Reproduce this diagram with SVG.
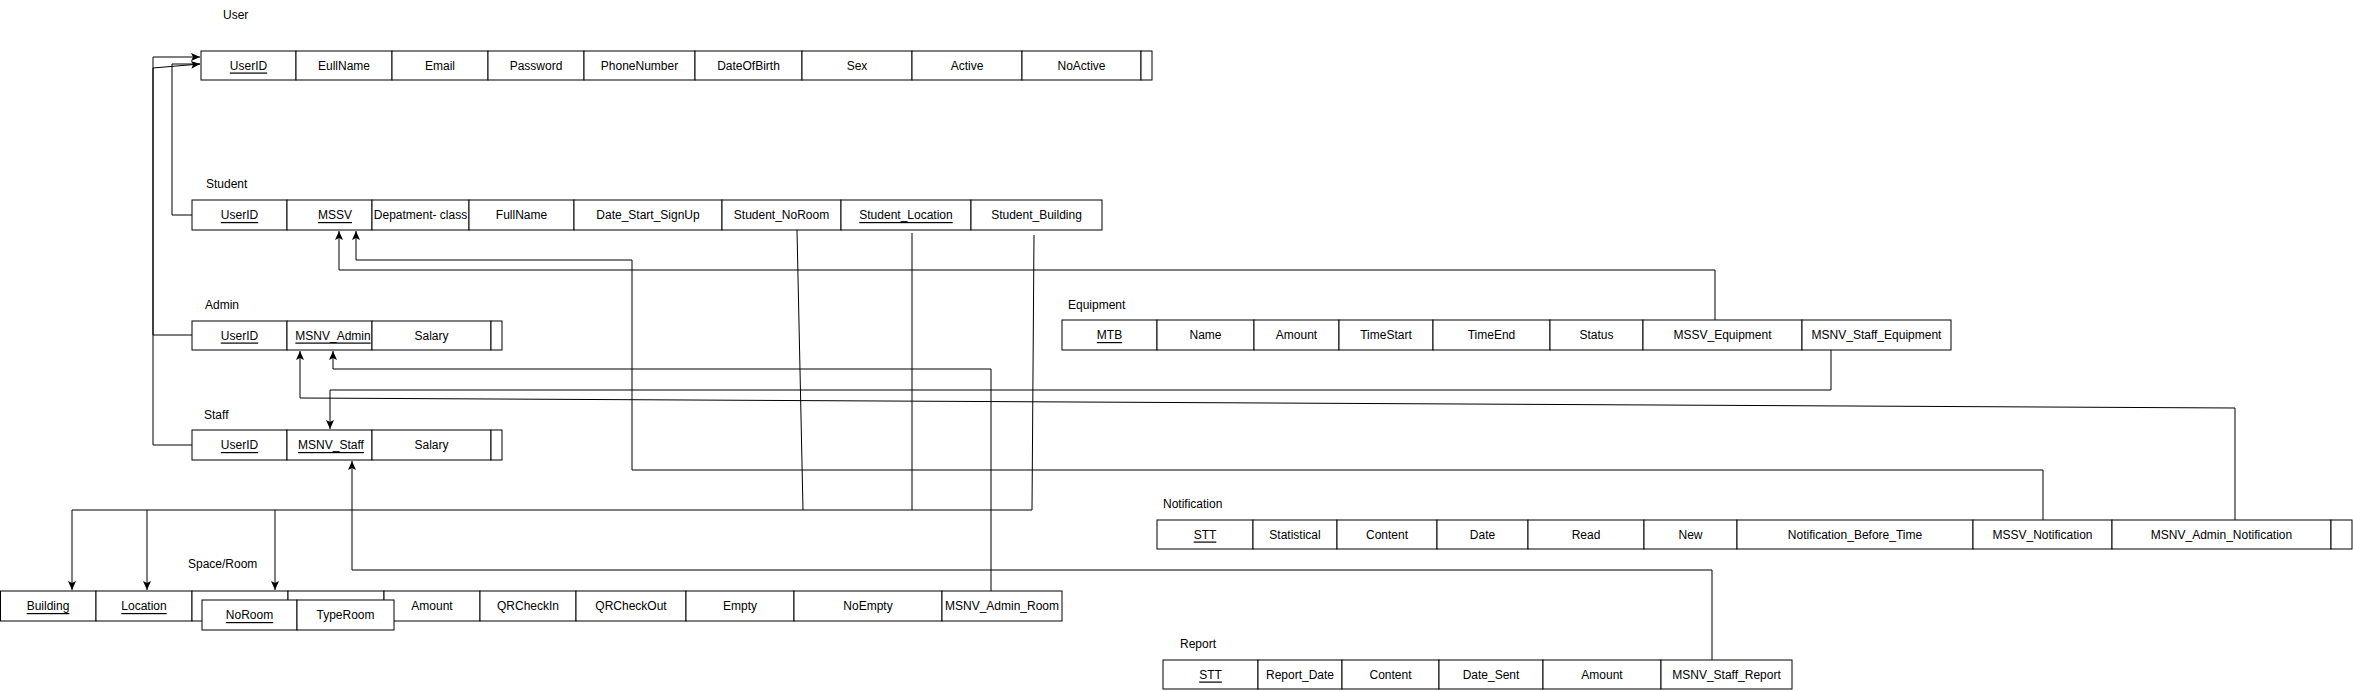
<svg xmlns="http://www.w3.org/2000/svg" width="2353" height="691" viewBox="0 0 2353 691">
<style>
.c{fill:#fff;stroke:#000;stroke-width:1}
.t{font-family:"Liberation Sans",Arial,sans-serif;font-size:12px;text-anchor:middle;dominant-baseline:central;fill:#000}
.u{text-decoration:underline}
.l{font-family:"Liberation Sans",Arial,sans-serif;font-size:12px;fill:#000;dominant-baseline:central}
.e{fill:none;stroke:#000;stroke-width:1}
</style>
<defs>
<marker id="a" markerUnits="userSpaceOnUse" markerWidth="10" markerHeight="10" viewBox="0 0 10 10" refX="9" refY="5" orient="auto">
<path d="M0,1 L9,5 L0,9 L2,5 z" fill="#000"/>
</marker>
</defs>
<rect width="2353" height="691" fill="#fff"/>

<g id="connectors">
<path class="e" d="M192,445 H153 V57 H200" marker-end="url(#a)"/>
<path class="e" d="M192,335 H153 V68 L200,64" marker-end="url(#a)"/>
<path class="e" d="M192,215 H172 V64 H200"/>
<path class="e" d="M1715,320 V270 H339 V231" marker-end="url(#a)"/>
<path class="e" d="M2043,520 V470 H632 V260 H356 V231" marker-end="url(#a)"/>
<path class="e" d="M1831,350 V390 H330 V429" marker-end="url(#a)"/>
<path class="e" d="M2235,520 V408 L300,398 V351" marker-end="url(#a)"/>
<path class="e" d="M991,591 V369 H333 V351" marker-end="url(#a)"/>
<path class="e" d="M1712,660 V570 H352 V461" marker-end="url(#a)"/>
<path class="e" d="M797,230 L803,510"/>
<path class="e" d="M912,233 V510"/>
<path class="e" d="M1034,235 L1032,510 H72"/>
<path class="e" d="M72,510 V590" marker-end="url(#a)"/>
<path class="e" d="M147,510 V590" marker-end="url(#a)"/>
<path class="e" d="M275,510 V590" marker-end="url(#a)"/>
</g>

<g id="user">
<text class="l" x="223" y="15">User</text>
<rect class="c" x="201" y="51" width="95" height="29"/><text class="t u" x="248.5" y="65.5">UserID</text>
<rect class="c" x="296" y="51" width="96" height="29"/><text class="t" x="344" y="65.5">EullName</text>
<rect class="c" x="392" y="51" width="96" height="29"/><text class="t" x="440" y="65.5">Email</text>
<rect class="c" x="488" y="51" width="96" height="29"/><text class="t" x="536" y="65.5">Password</text>
<rect class="c" x="584" y="51" width="111" height="29"/><text class="t" x="639.5" y="65.5">PhoneNumber</text>
<rect class="c" x="695" y="51" width="107" height="29"/><text class="t" x="748.5" y="65.5">DateOfBirth</text>
<rect class="c" x="802" y="51" width="110" height="29"/><text class="t" x="857" y="65.5">Sex</text>
<rect class="c" x="912" y="51" width="110" height="29"/><text class="t" x="967" y="65.5">Active</text>
<rect class="c" x="1022" y="51" width="119" height="29"/><text class="t" x="1081.5" y="65.5">NoActive</text>
<rect class="c" x="1141" y="51" width="11" height="29"/>
</g>

<g id="student">
<text class="l" x="206" y="184">Student</text>
<rect class="c" x="192" y="200" width="95" height="30"/><text class="t u" x="239.5" y="215">UserID</text>
<rect class="c" x="287" y="200" width="85" height="30"/><text class="t u" x="335" y="215">MSSV</text>
<rect class="c" x="372" y="200" width="97" height="30"/><text class="t" x="420.5" y="215">Depatment- class</text>
<rect class="c" x="469" y="200" width="105" height="30"/><text class="t" x="521.5" y="215">FullName</text>
<rect class="c" x="574" y="200" width="148" height="30"/><text class="t" x="648" y="215">Date_Start_SignUp</text>
<rect class="c" x="722" y="200" width="119" height="30"/><text class="t" x="781.5" y="215">Student_NoRoom</text>
<rect class="c" x="841" y="200" width="130" height="30"/><text class="t u" x="906" y="215">Student_Location</text>
<rect class="c" x="971" y="200" width="131" height="30"/><text class="t" x="1036.5" y="215">Student_Building</text>
</g>

<g id="admin">
<text class="l" x="205" y="305">Admin</text>
<rect class="c" x="192" y="321" width="95" height="29"/><text class="t u" x="239.5" y="335.5">UserID</text>
<rect class="c" x="287" y="321" width="85" height="29"/><text class="t u" x="333" y="335.5">MSNV_Admin</text>
<rect class="c" x="372" y="321" width="119" height="29"/><text class="t" x="431.5" y="335.5">Salary</text>
<rect class="c" x="491" y="321" width="11" height="29"/>
</g>

<g id="staff">
<text class="l" x="204" y="415">Staff</text>
<rect class="c" x="192" y="430" width="95" height="30"/><text class="t u" x="239.5" y="445">UserID</text>
<rect class="c" x="287" y="430" width="85" height="30"/><text class="t u" x="331" y="445">MSNV_Staff</text>
<rect class="c" x="372" y="430" width="119" height="30"/><text class="t" x="431.5" y="445">Salary</text>
<rect class="c" x="491" y="430" width="11" height="30"/>
</g>

<g id="space-room">
<text class="l" x="188" y="564">Space/Room</text>
<rect class="c" x="0.5" y="591" width="95.5" height="30"/><text class="t u" x="48" y="606">Building</text>
<rect class="c" x="96" y="591" width="96" height="30"/><text class="t u" x="144" y="606">Location</text>
<rect class="c" x="192" y="591" width="96" height="30"/>
<rect class="c" x="288" y="591" width="96" height="30"/>
<rect class="c" x="384" y="591" width="96" height="30"/><text class="t" x="432" y="606">Amount</text>
<rect class="c" x="480" y="591" width="96" height="30"/><text class="t" x="528" y="606">QRCheckIn</text>
<rect class="c" x="576" y="591" width="110" height="30"/><text class="t" x="631" y="606">QRCheckOut</text>
<rect class="c" x="686" y="591" width="108" height="30"/><text class="t" x="740" y="606">Empty</text>
<rect class="c" x="794" y="591" width="148" height="30"/><text class="t" x="868" y="606">NoEmpty</text>
<rect class="c" x="942" y="591" width="120" height="30"/><text class="t" x="1002" y="606">MSNV_Admin_Room</text>
</g>

<g id="room-key">
<rect class="c" x="202" y="600" width="95" height="30"/><text class="t u" x="249.5" y="615">NoRoom</text>
<rect class="c" x="297" y="600" width="97" height="30"/><text class="t" x="345.5" y="615">TypeRoom</text>
</g>

<g id="equipment">
<text class="l" x="1068" y="305">Equipment</text>
<rect class="c" x="1062" y="320" width="95" height="30"/><text class="t u" x="1109.5" y="335">MTB</text>
<rect class="c" x="1157" y="320" width="97" height="30"/><text class="t" x="1205.5" y="335">Name</text>
<rect class="c" x="1254" y="320" width="85" height="30"/><text class="t" x="1296.5" y="335">Amount</text>
<rect class="c" x="1339" y="320" width="94" height="30"/><text class="t" x="1386" y="335">TimeStart</text>
<rect class="c" x="1433" y="320" width="117" height="30"/><text class="t" x="1491.5" y="335">TimeEnd</text>
<rect class="c" x="1550" y="320" width="93" height="30"/><text class="t" x="1596.5" y="335">Status</text>
<rect class="c" x="1643" y="320" width="159" height="30"/><text class="t" x="1722.5" y="335">MSSV_Equipment</text>
<rect class="c" x="1802" y="320" width="149" height="30"/><text class="t" x="1876.5" y="335">MSNV_Staff_Equipment</text>
</g>

<g id="notification">
<text class="l" x="1163" y="504">Notification</text>
<rect class="c" x="1157" y="520" width="96" height="29"/><text class="t u" x="1205" y="534.5">STT</text>
<rect class="c" x="1253" y="520" width="84" height="29"/><text class="t" x="1295" y="534.5">Statistical</text>
<rect class="c" x="1337" y="520" width="100" height="29"/><text class="t" x="1387" y="534.5">Content</text>
<rect class="c" x="1437" y="520" width="91" height="29"/><text class="t" x="1482.5" y="534.5">Date</text>
<rect class="c" x="1528" y="520" width="116" height="29"/><text class="t" x="1586" y="534.5">Read</text>
<rect class="c" x="1644" y="520" width="93" height="29"/><text class="t" x="1690.5" y="534.5">New</text>
<rect class="c" x="1737" y="520" width="236" height="29"/><text class="t" x="1855" y="534.5">Notification_Before_Time</text>
<rect class="c" x="1973" y="520" width="139" height="29"/><text class="t" x="2042.5" y="534.5">MSSV_Notification</text>
<rect class="c" x="2112" y="520" width="219" height="29"/><text class="t" x="2221.5" y="534.5">MSNV_Admin_Notification</text>
<rect class="c" x="2331" y="520" width="21" height="29"/>
</g>

<g id="report">
<text class="l" x="1180" y="644">Report</text>
<rect class="c" x="1163" y="660" width="95" height="29"/><text class="t u" x="1210.5" y="674.5">STT</text>
<rect class="c" x="1258" y="660" width="84" height="29"/><text class="t" x="1300" y="674.5">Report_Date</text>
<rect class="c" x="1342" y="660" width="97" height="29"/><text class="t" x="1390.5" y="674.5">Content</text>
<rect class="c" x="1439" y="660" width="104" height="29"/><text class="t" x="1491" y="674.5">Date_Sent</text>
<rect class="c" x="1543" y="660" width="118" height="29"/><text class="t" x="1602" y="674.5">Amount</text>
<rect class="c" x="1661" y="660" width="131" height="29"/><text class="t" x="1726.5" y="674.5">MSNV_Staff_Report</text>
</g>
</svg>
